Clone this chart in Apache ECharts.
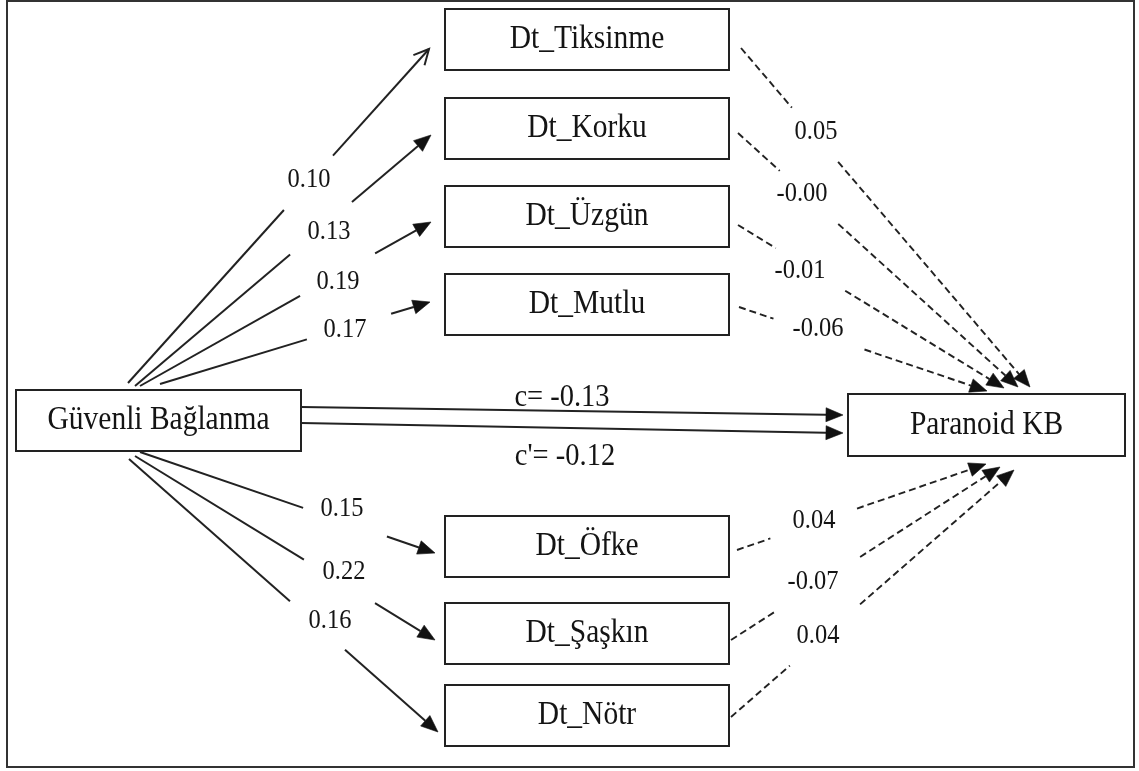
<!DOCTYPE html>
<html><head><meta charset="utf-8">
<script src="https://cdn.jsdelivr.net/npm/echarts@6/dist/echarts.min.js"></script>
<style>html,body{margin:0;padding:0;background:#fff}#chart{width:1139px;height:771px}</style>
</head><body><div id="chart"></div>
<script>
// ---------- data ----------
const predictor = 'Güvenli Bağlanma';
const outcome = 'Paranoid KB';
const mediators = ['Dt_Tiksinme','Dt_Korku','Dt_Üzgün','Dt_Mutlu','Dt_Öfke','Dt_Şaşkın','Dt_Nötr'];
const aPaths = [0.10, 0.13, 0.19, 0.17, 0.15, 0.22, 0.16];
const bPaths = [0.05, -0, -0.01, -0.06, 0.04, -0.07, 0.04];
const totalEffect = -0.13;
const directEffect = -0.12;
const effectPrefixes = ['c= ', "c'= "];

// ---------- layout (diagram geometry, in axis units) ----------
const LAYOUT = {
  frame: [7, 1, 1134, 767],
  predictorBox: [16, 390, 301, 451],
  outcomeBox: [848, 394, 1125, 456],
  medX: [445, 729],
  medTop: [9, 98, 186, 274, 516, 603, 685],
  medH: 61,
  aFrom: [[128,383],[135,386],[140,386],[160,384],[140,452],[135,456],[129,459]],
  aTo: [[429,49],[431,135],[431,222],[430,302],[435,553],[435,640],[438,732]],
  aGap: [[0.518,0.681],[0.524,0.733],[0.55,0.808],[0.544,0.856],[0.553,0.837],[0.563,0.8],[0.521,0.699]],
  aLabel: [[309,180],[329,232],[338,282],[345,330],[342,509],[344,572],[330,621]],
  bFrom: [[741,48],[738,133],[738,225],[739,307],[737,550],[731,640],[731,717]],
  bTo: [[1030,387],[1018,387],[1004,388],[987,391],[986,464],[1000,467],[1014,470]],
  bGap: [[0.176,0.336],[0.149,0.358],[0.142,0.403],[0.139,0.506],[0.134,0.482],[0.16,0.48],[0.208,0.456]],
  bLabel: [[816,132],[802,194],[800,271],[818,329],[814,521],[813,582],[818,636]],
  cFrom: [[301,407],[301,423]],
  cTo: [[843,415],[843,433]],
  cLabel: [[562,397],[565,456]]
};

const FONT = '"Liberation Serif", "Times New Roman", serif';
const INK = '#141414';
const TEXT_STRETCH = 1.14;

function fmt(v) {
  const neg = v < 0 || Object.is(v, -0);
  return (neg ? '-' : '') + Math.abs(v).toFixed(2);
}

// nodes
const nodes = [];
nodes.push({ name: predictor, value: LAYOUT.predictorBox });
nodes.push({ name: outcome, value: LAYOUT.outcomeBox });
mediators.forEach((m, i) => {
  const t = LAYOUT.medTop[i];
  nodes.push({ name: m, value: [LAYOUT.medX[0], t, LAYOUT.medX[1], t + LAYOUT.medH] });
});

// edges
const edges = [];
aPaths.forEach((v, i) => {
  edges.push({ value: [LAYOUT.aFrom[i][0], LAYOUT.aFrom[i][1], LAYOUT.aTo[i][0], LAYOUT.aTo[i][1]],
    gap: LAYOUT.aGap[i], label: fmt(v), lp: LAYOUT.aLabel[i], dashed: false, open: i === 0, fs: 24.5 });
});
bPaths.forEach((v, i) => {
  edges.push({ value: [LAYOUT.bFrom[i][0], LAYOUT.bFrom[i][1], LAYOUT.bTo[i][0], LAYOUT.bTo[i][1]],
    gap: LAYOUT.bGap[i], label: fmt(v), lp: LAYOUT.bLabel[i], dashed: true, open: false, fs: 24.5 });
});
[totalEffect, directEffect].forEach((v, i) => {
  edges.push({ value: [LAYOUT.cFrom[i][0], LAYOUT.cFrom[i][1], LAYOUT.cTo[i][0], LAYOUT.cTo[i][1]],
    gap: null, label: effectPrefixes[i] + fmt(v), lp: LAYOUT.cLabel[i], dashed: false, open: false, fs: 28.5 });
});

const chart = echarts.init(document.getElementById('chart'), null, { renderer: 'canvas' });

function textEl(x, y, text, fs) {
  return { type: 'text', x: x, y: y, scaleY: TEXT_STRETCH,
    style: { text: text, fontSize: fs, fontFamily: FONT, fill: INK, align: 'center', verticalAlign: 'middle' } };
}

function renderBox(params, api) {
  const d = nodes[params.dataIndex];
  const p0 = api.coord([d.value[0], d.value[1]]);
  const p1 = api.coord([d.value[2], d.value[3]]);
  return {
    type: 'group',
    children: [
      { type: 'rect', shape: { x: p0[0], y: p0[1], width: p1[0] - p0[0], height: p1[1] - p0[1] },
        style: { fill: '#fff', stroke: '#222', lineWidth: 2 } },
      textEl((p0[0] + p1[0]) / 2, (p0[1] + p1[1]) / 2, d.name, 29.5)
    ]
  };
}

function renderEdge(params, api) {
  const e = edges[params.dataIndex];
  const s = api.coord([e.value[0], e.value[1]]);
  const t = api.coord([e.value[2], e.value[3]]);
  const dx = t[0] - s[0], dy = t[1] - s[1];
  const len = Math.sqrt(dx * dx + dy * dy);
  const ux = dx / len, uy = dy / len;
  const nx = -uy, ny = ux;
  const AL = e.open ? 15 : 17, AW = e.open ? 7.5 : 7;
  const base = [t[0] - ux * AL, t[1] - uy * AL];
  const lineEnd = e.open ? t : base;
  const style = { stroke: '#222', lineWidth: e.dashed ? 1.9 : 2, lineDash: e.dashed ? [7, 4] : null };
  const pt = (f) => [s[0] + dx * f, s[1] + dy * f];
  const children = [];
  if (e.gap) {
    const g0 = pt(e.gap[0]), g1 = pt(e.gap[1]);
    children.push({ type: 'line', shape: { x1: s[0], y1: s[1], x2: g0[0], y2: g0[1] }, style: style });
    children.push({ type: 'line', shape: { x1: g1[0], y1: g1[1], x2: lineEnd[0], y2: lineEnd[1] }, style: style });
  } else {
    children.push({ type: 'line', shape: { x1: s[0], y1: s[1], x2: lineEnd[0], y2: lineEnd[1] }, style: style });
  }
  const w1 = [base[0] + nx * AW, base[1] + ny * AW];
  const w2 = [base[0] - nx * AW, base[1] - ny * AW];
  if (e.open) {
    children.push({ type: 'polyline', shape: { points: [w1, t, w2] }, style: { stroke: '#222', lineWidth: 2, fill: null } });
  } else {
    children.push({ type: 'polygon', shape: { points: [t, w1, w2] }, style: { fill: '#111', stroke: '#111', lineWidth: 0.6 } });
  }
  const lp = api.coord(e.lp);
  children.push(textEl(lp[0], lp[1], e.label, e.fs));
  return { type: 'group', children: children };
}

function renderFrame(params, api) {
  const f = LAYOUT.frame;
  const p0 = api.coord([f[0], f[1]]), p1 = api.coord([f[2], f[3]]);
  return { type: 'rect', shape: { x: p0[0], y: p0[1], width: p1[0] - p0[0], height: p1[1] - p0[1] },
    style: { fill: null, stroke: '#333', lineWidth: 2 } };
}

chart.setOption({
  backgroundColor: '#fff',
  animation: false,
  grid: { left: 0, right: 0, top: 0, bottom: 0 },
  xAxis: { type: 'value', min: 0, max: 1139, show: false },
  yAxis: { type: 'value', min: 0, max: 771, inverse: true, show: false },
  series: [
    { type: 'custom', name: 'frame', coordinateSystem: 'cartesian2d', clip: false, silent: true,
      data: [[0, 0]], renderItem: renderFrame, z: 1 },
    { type: 'custom', name: 'paths', coordinateSystem: 'cartesian2d', clip: false, silent: true,
      data: edges.map(e => e.value), renderItem: renderEdge, z: 2 },
    { type: 'custom', name: 'variables', coordinateSystem: 'cartesian2d', clip: false, silent: true,
      data: nodes.map(n => n.value), renderItem: renderBox, z: 3 }
  ]
});
</script>
</body></html>
